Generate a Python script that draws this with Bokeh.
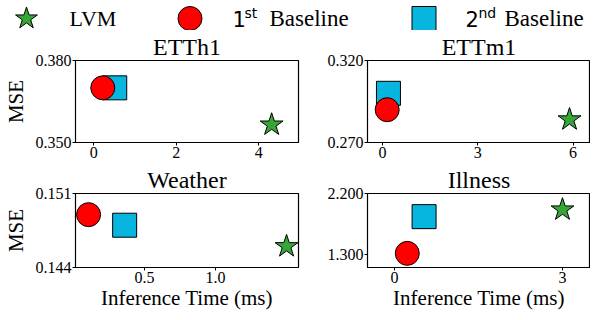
from bokeh.plotting import figure
from bokeh.layouts import column, row
from bokeh.models import Range1d, FixedTicker, PrintfTickFormatter
from bokeh.core.properties import value
from bokeh.embed import file_html
from bokeh.resources import INLINE

# ---- data ----
datasets = ["ETTh1", "ETTm1", "Weather", "Illness"]
lvm_time = [4.31, 5.89, 1.50, 3.00]
lvm_mse = [0.3565, 0.284, 0.146, 1.96]
base1_time = [0.22, 0.15, 0.106, 0.23]
base1_mse = [0.370, 0.290, 0.149, 1.31]
base2_time = [0.51, 0.19, 0.36, 0.53]
base2_mse = [0.370, 0.300, 0.148, 1.856]
x_ticks = [[0, 2, 4], [0, 3, 6], [0.5, 1.0], [0, 3]]
x_fmt = ["%d", "%d", "%.1f", "%d"]
y_ticks = [[0.350, 0.380], [0.270, 0.320], [0.144, 0.151], [1.300, 2.200]]
x_limits = [(-0.44, 4.96), (-0.47, 6.55), (0.014, 1.584), (-0.48, 3.5)]
y_limits = [(0.350, 0.380), (0.270, 0.320), (0.144, 0.151), (1.10, 2.20)]
legend_names = ["LVM", "Baseline", "Baseline"]
legend_ordinals = [("1", "st"), ("2", "nd")]
x_label = "Inference Time (ms)"
y_label = "MSE"

GREEN = "#36a736"
RED = "#ff0000"
CYAN = "#07b6df"
SERIF = "Liberation Serif"
SANS = "DejaVu Sans"

# ---- layout constants ----
LEFT_W, RIGHT_W = 300, 290
LEG_H = 30
TOP_H, BOT_H = 133, 149


def make_panel(i, width, height, b_left, b_right, b_top, b_bottom, xlab, ylab):
    p = figure(width=width, height=height, output_backend="svg", toolbar_location=None,
               x_range=Range1d(*x_limits[i]), y_range=Range1d(*y_limits[i]),
               min_border_left=b_left, min_border_right=b_right,
               min_border_top=b_top, min_border_bottom=b_bottom)
    p.title.text = datasets[i]
    p.title.align = "center"
    p.title.text_font = SERIF
    p.title.text_font_size = "24px"
    p.title.text_font_style = "normal"
    p.title.text_color = "black"
    p.title.standoff = 2
    p.grid.visible = False
    p.outline_line_color = "black"
    p.outline_line_width = 1.2
    for ax in (p.xaxis[0], p.yaxis[0]):
        ax.minor_tick_line_color = None
        ax.major_tick_in = 0
        ax.major_tick_out = 3
        ax.major_label_text_font = SERIF
        ax.major_label_text_font_size = "16px"
        ax.major_label_text_color = "black"
        ax.axis_line_color = "black"
        ax.major_tick_line_color = "black"
        ax.major_label_standoff = 1
        ax.axis_label_text_font = SERIF
        ax.axis_label_text_font_size = "21px"
        ax.axis_label_text_font_style = "normal"
        ax.axis_label_text_color = "black"
        ax.axis_label_standoff = 0
    p.xaxis.ticker = FixedTicker(ticks=x_ticks[i])
    p.xaxis.formatter = PrintfTickFormatter(format=x_fmt[i])
    p.yaxis.ticker = FixedTicker(ticks=y_ticks[i])
    p.yaxis.formatter = PrintfTickFormatter(format="%.3f")
    if xlab:
        p.xaxis.axis_label = x_label
    if ylab:
        p.yaxis.axis_label = y_label
        p.yaxis.axis_label_standoff = 5
    p.scatter([lvm_time[i]], [lvm_mse[i]], marker="star", size=24,
              fill_color=GREEN, line_color="black", line_width=1)
    p.scatter([base2_time[i]], [base2_mse[i]], marker="square", size=24,
              fill_color=CYAN, line_color="black", line_width=1)
    p.scatter([base1_time[i]], [base1_mse[i]], marker="circle", size=24,
              fill_color=RED, line_color="black", line_width=1)
    return p


p1 = make_panel(0, LEFT_W, TOP_H, 75, 2, 30, 21, False, True)
p2 = make_panel(1, RIGHT_W, TOP_H, 67, 0, 30, 21, False, False)
p3 = make_panel(2, LEFT_W, BOT_H, 75, 2, 28, 44, True, True)
p4 = make_panel(3, RIGHT_W, BOT_H, 67, 0, 28, 44, True, False)

# ---- legend strip (pixel coordinates) ----
W = LEFT_W + RIGHT_W
leg = figure(width=W, height=LEG_H, output_backend="svg", toolbar_location=None,
             x_range=Range1d(0, W), y_range=Range1d(0, LEG_H),
             min_border=0, min_border_left=0, min_border_right=0,
             min_border_top=0, min_border_bottom=0)
leg.axis.visible = False
leg.grid.visible = False
leg.outline_line_color = None
ym = LEG_H - 18
leg.scatter([26], [ym], marker="star", size=23, fill_color=GREEN, line_color="black", line_width=1)
leg.scatter([189.5], [ym], marker="circle", size=24, fill_color=RED, line_color="black", line_width=1)
leg.scatter([423.5], [ym], marker="square", size=24, fill_color=CYAN, line_color="black", line_width=1)
leg.text([69], [ym], text=[legend_names[0]], text_font=value(SERIF), text_font_size="22px",
         text_baseline="middle", text_align="left", text_color="black")
for (d, sup), name, xd, xs, xb in zip(legend_ordinals, legend_names[1:],
                                      [232, 465], [244, 478], [269, 504]):
    leg.text([xd], [ym], text=[d], text_font=value(SANS), text_font_size="21px",
             text_baseline="middle", text_align="left", text_color="black")
    leg.text([xs], [ym + 6], text=[sup], text_font=value(SANS), text_font_size="14px",
             text_baseline="middle", text_align="left", text_color="black")
    leg.text([xb], [ym], text=[name], text_font=value(SERIF), text_font_size="23px",
             text_baseline="middle", text_align="left", text_color="black")

layout = column(leg, row(p1, p2), row(p3, p4))
open("out.html", "w").write(file_html(layout, INLINE))
